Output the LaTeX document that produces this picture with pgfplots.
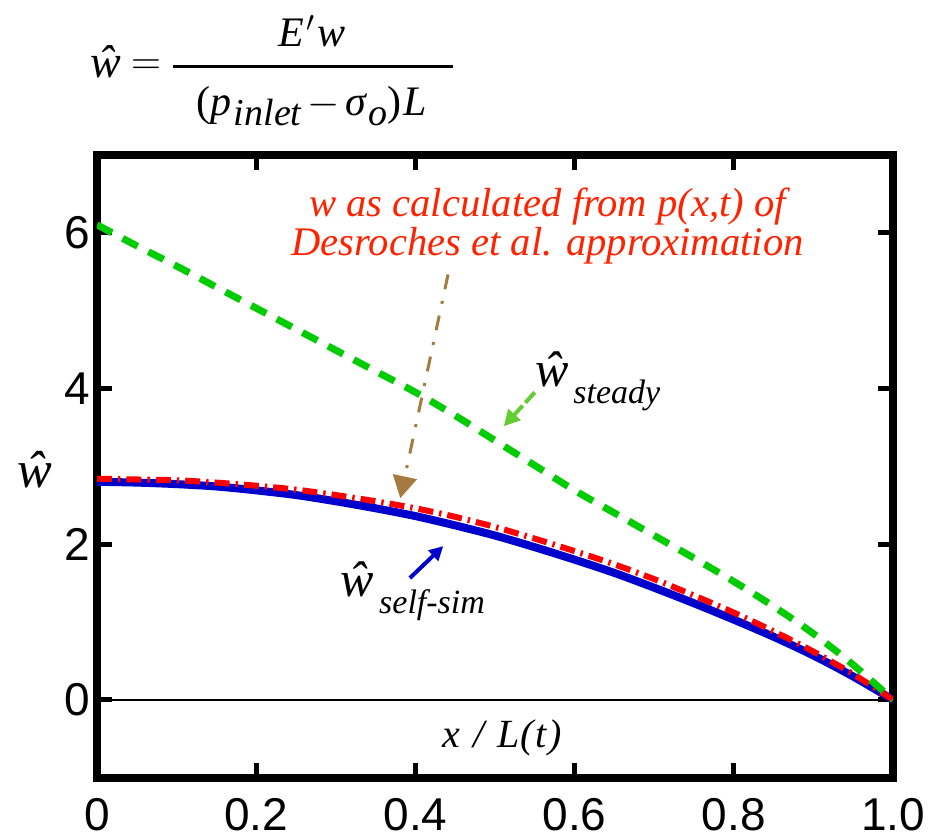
\documentclass[border=0pt]{standalone}
\usepackage{fontspec}
\setmainfont{Liberation Serif}
\setsansfont{Liberation Sans}
\newfontfamily\timesit{Liberation Serif Italic}
\newfontfamily\timesrm{Liberation Serif}
\newfontfamily\arial{Liberation Sans}
\usepackage{pgfplots}
\pgfplotsset{compat=1.18}
\usetikzlibrary{arrows.meta}
\definecolor{selfsim}{HTML}{0000CC}
\definecolor{desroches}{HTML}{FF0000}
\definecolor{steady}{HTML}{00CC00}
\definecolor{steadyarrow}{HTML}{66CC33}
\definecolor{brownarrow}{HTML}{A57A40}
\definecolor{redtext}{HTML}{FF2200}

\begin{document}
\begin{tikzpicture}
\begin{axis}[
  scale only axis, width=398pt, height=311.5pt,
  xmin=0, xmax=1, ymin=-1, ymax=7,
  xtick={0,0.2,0.4,0.6,0.8,1}, xticklabels={0,0.2,0.4,0.6,0.8,1.0},
  ytick={0,2,4,6},
  axis line style={line width=4pt},
  major tick length=7.5pt,
  tick style={line width=2.5pt, black},
  tick label style={font=\fontsize{23}{23}\arial, inner sep=1pt},
  /pgf/number format/assume math mode=true,
  xticklabel style={yshift=-9pt},
  yticklabel style={xshift=-2.5pt},
  clip mode=individual,
]
% invisible frame: keeps the page at the reference proportions
\path (axis cs:-0.12186,-1.782) rectangle (axis cs:1.04774,8.987);

\addplot[black, line width=0.8pt] coordinates {(0,0) (1,0)};

% self-similar solution
\addplot[selfsim, line width=4pt, smooth] coordinates {
(0,2.80) (0.05,2.79) (0.1,2.77) (0.15,2.74) (0.2,2.69) (0.25,2.63) (0.3,2.55)
(0.35,2.46) (0.4,2.36) (0.45,2.24) (0.5,2.11) (0.55,1.96) (0.6,1.80) (0.65,1.63)
(0.7,1.44) (0.75,1.24) (0.8,1.03) (0.85,0.81) (0.9,0.57) (0.95,0.30) (1.0,0.0)};

% from p(x,t) of Desroches et al.
\addplot[desroches, line width=3pt, smooth, dash pattern=on 7.5pt off 3pt on 1.2pt off 3pt] coordinates {
(0,2.84) (0.05,2.83) (0.1,2.82) (0.15,2.79) (0.2,2.75) (0.25,2.70) (0.3,2.63)
(0.35,2.55) (0.4,2.46) (0.45,2.35) (0.5,2.22) (0.55,2.07) (0.6,1.91) (0.65,1.74)
(0.7,1.55) (0.75,1.34) (0.8,1.12) (0.85,0.88) (0.9,0.62) (0.95,0.33) (1.0,0.0)};

% steady solution
\addplot[steady, line width=3.5pt, smooth, dash pattern=on 8.5pt off 6pt] coordinates {
(0,6.10) (0.05,5.83) (0.1,5.57) (0.15,5.30) (0.2,5.03) (0.25,4.76) (0.3,4.49)
(0.35,4.22) (0.4,3.95) (0.45,3.65) (0.5,3.33) (0.55,3.01) (0.6,2.69) (0.65,2.40)
(0.7,2.11) (0.75,1.82) (0.8,1.52) (0.85,1.20) (0.9,0.85) (0.95,0.45) (1.0,0.0)};

% arrows
\draw[brownarrow, line width=1.5pt, dash pattern=on 7.5pt off 6pt on 1.5pt off 6pt,
  -{Triangle[width=12pt,length=11pt]}] (axis cs:0.441,5.462) -- (axis cs:0.381,2.590);
\draw[steadyarrow, line width=2pt, dash pattern=on 7pt off 2pt,
  -{Triangle[width=8pt,length=8pt]}] (axis cs:0.550,3.949) -- (axis cs:0.511,3.513);
\draw[selfsim, line width=2pt, -{Triangle[width=7pt,length=7pt]}]
  (axis cs:0.393,1.564) -- (axis cs:0.435,1.974);

% curve labels
\node[anchor=base west, inner sep=0, font=\fontsize{25}{25}\timesit] at (axis cs:0.550,4.026) {ŵ};
\node[anchor=base west, inner sep=0, font=\fontsize{17}{17}\timesit] at (axis cs:0.598,3.808) {steady};
\node[anchor=base west, inner sep=0, font=\fontsize{25}{25}\timesit] at (axis cs:0.305,1.333) {ŵ};
\node[anchor=base west, inner sep=0, font=\fontsize{17}{17}\timesit] at (axis cs:0.354,1.103) {self-sim};
\node[anchor=north, inner sep=0, align=center, redtext, font=\fontsize{20.3}{17.5}\timesit]
  at (axis cs:0.566,6.577) {w as calculated from p(x,t) of\\Desroches et al. approximation};

% axis labels
\node[anchor=base west, inner sep=0, font=\fontsize{26}{26}\timesit] at (axis cs:-0.1005,2.731) {ŵ};
\node[anchor=base, inner sep=0, font=\fontsize{20}{20}\timesit] at (axis cs:0.509,-0.615) {x\,\,/\,\,L(\kern1pt t\kern1pt)};

% definition of w-hat
\node[anchor=base west, inner sep=0, font=\fontsize{23}{23}\timesit] at (axis cs:-0.0088,7.987) {ŵ};
\node[inner sep=0, font=\fontsize{21}{21}\selectfont] at (axis cs:0.0616,8.128) {$=$};
\draw[line width=1.5pt] (axis cs:0.0955,8.128) -- (axis cs:0.4472,8.128);
\node[anchor=base, inner sep=0, font=\fontsize{21}{21}\timesit] at (axis cs:0.270,8.385) {E\kern1pt$'$\kern1pt w};
\node[anchor=base, inner sep=0, font=\fontsize{21}{21}\timesit] at (axis cs:0.270,7.5)
  {{\timesrm(}p\kern1pt\raisebox{-5pt}{\fontsize{19}{19}\timesit inlet}\kern3pt{\timesrm$-$}\kern3pt σ\kern1pt\raisebox{-5pt}{\fontsize{19}{19}\timesit o}{\timesrm)}\kern1pt L};
\end{axis}
\end{tikzpicture}
\end{document}
